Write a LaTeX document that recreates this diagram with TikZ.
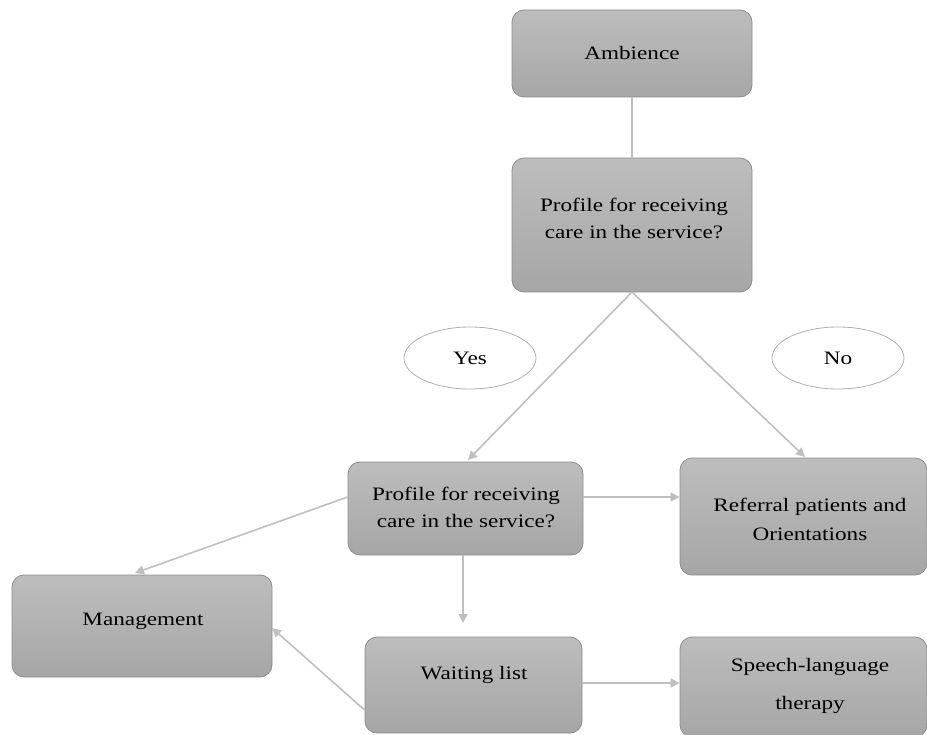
\documentclass[tikz,border=0pt]{standalone}
\usepackage{fontspec}
\setmainfont{Liberation Serif}[FakeStretch=1.22]
\usetikzlibrary{arrows.meta,shapes.geometric}
\definecolor{boxtop}{HTML}{BDBDBD}
\definecolor{boxbot}{HTML}{A6A6A6}
\definecolor{boxline}{HTML}{8C8C8C}
\definecolor{conn}{HTML}{BFBFBF}
\tikzset{
  box/.style={draw=boxline, line width=0.8pt, rounded corners=12pt, top color=boxtop, bottom color=boxbot, inner sep=0pt},
  txt/.style={align=center, font=\fontsize{19}{27}\selectfont, inner sep=0pt},
  oval/.style={draw=boxline!70, ellipse, line width=0.8pt, fill=white, font=\fontsize{19}{22}\selectfont, inner sep=0pt},
  conn/.style={draw=conn, line width=1.6pt},
  arr/.style={conn, -{Triangle[length=9pt,width=9pt,fill=conn]}}
}
\begin{document}
\begin{tikzpicture}[x=1pt,y=-1pt]
\useasboundingbox (0,0) rectangle (927,735);
\node[box, minimum width=240pt, minimum height=87pt] (amb) at (632,53.5) {};
\node[box, minimum width=240pt, minimum height=134pt] (p1) at (632,225) {};
\node[oval, minimum width=132pt, minimum height=62pt] (yes) at (470,358) {Yes};
\node[oval, minimum width=132pt, minimum height=62pt] (no) at (838,358) {No};
\node[box, minimum width=235pt, minimum height=93pt] (p2) at (465.5,508.5) {};
\node[box, minimum width=247pt, minimum height=117pt] (ref) at (803.5,516.5) {};
\node[box, minimum width=260pt, minimum height=102pt] (man) at (142,626) {};
\node[box, minimum width=217pt, minimum height=96pt] (wait) at (473.5,685) {};
\node[box, minimum width=247pt, minimum height=100pt] (sp) at (803.5,687) {};
% texts
\node[txt] (ambt) at (632,53) {Ambience};
\node[txt] (p1t) at (634,218) {Profile for receiving\\care in the service?};
\node[txt] (p2t) at (466,507) {Profile for receiving\\care in the service?};
\node[txt, font=\fontsize{19}{29}\selectfont] (reft) at (810,519) {Referral patients and\\Orientations};
\node[txt] (mant) at (143,621) {Management};
\node[txt] (waitt) at (474,675) {Waiting list};
\node[txt, font=\fontsize{19}{38}\selectfont] (spt) at (810,686) {Speech-language\\therapy};
% connectors
\draw[conn] (amb.south) -- (p1.north);
\coordinate (p1b) at (632,292);
\draw[arr] (p1b) -- (468,460);
\draw[arr] (p1b) -- (805,457);
\draw[arr] (p2.east |- 0,497) -- (ref.west |- 0,497);
\draw[arr] (p2.west |- 0,497) -- (135,573);
\draw[arr] (463,555) -- (463,623);
\draw[arr] (wait.west |- 0,710) -- (272,628);
\draw[arr] (wait.east |- 0,683) -- (sp.west |- 0,683);
\end{tikzpicture}
\end{document}
